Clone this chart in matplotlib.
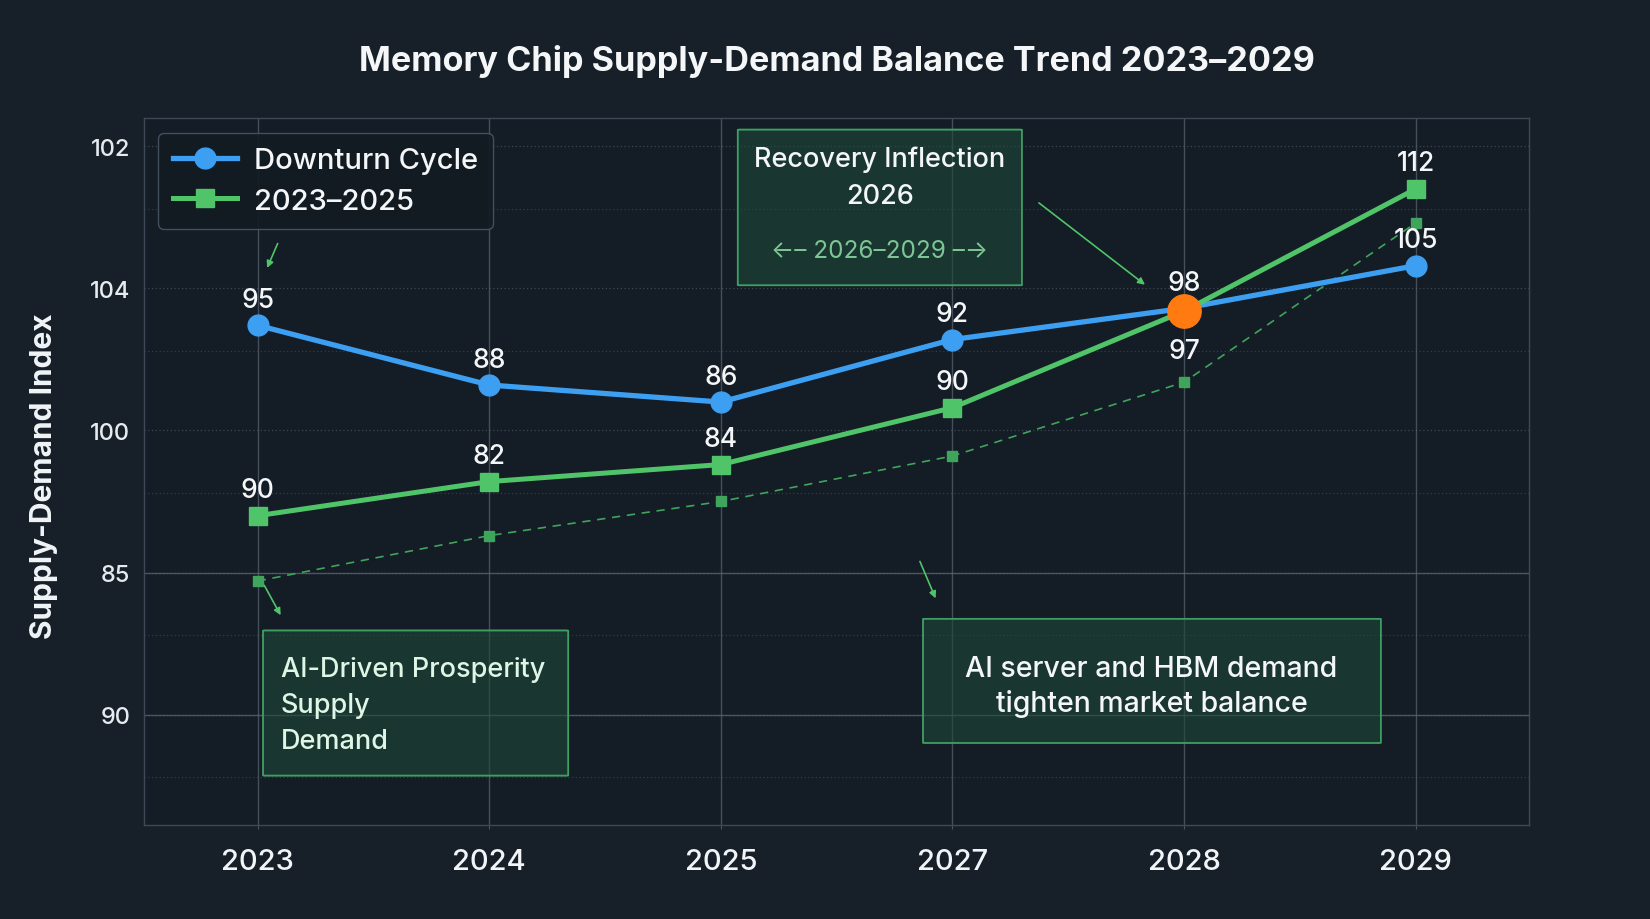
import matplotlib
matplotlib.use("Agg")
import matplotlib.pyplot as plt
from matplotlib.patches import FancyBboxPatch
from matplotlib.ticker import FixedLocator

plt.rcParams['font.family'] = ['Inter', 'DejaVu Sans']

# categories (x) and tick labels as printed on the chart
years = ['2023', '2024', '2025', '2027', '2028', '2029']
y_tick_pos = [110, 105, 100, 95, 90]
y_tick_labels = ['102', '104', '100', '85', '90']

downturn = [103.7, 101.6, 101.0, 103.2, 104.3, 105.8]
downturn_labels = ['95', '88', '86', '92', '98', '105']
ai_driven = [97.0, 98.2, 98.8, 100.8, 104.2, 108.5]
ai_labels = ['90', '82', '84', '90', '97', '112']
baseline = [94.7, 96.3, 97.5, 99.1, 101.7, 107.3]

inflection_idx = 4
inflection_val = 104.2

BG = '#172029'
AX_BG = '#141c25'
BLUE = '#3d9ff2'
GREEN = '#4fc468'
DGREEN = '#3fa45c'
ORANGE = '#ff7b12'
GRID = '#5a6672'
W = 500  # medium weight for most text

fig = plt.figure(figsize=(16.5, 9.2), dpi=100, facecolor=BG)
ax = fig.add_axes([0.0874, 0.1018, 0.8393, 0.7689])
ax.set_facecolor(AX_BG)

x = list(range(len(years)))

ax.set_xlim(-0.49, 5.49)
ax.set_ylim(86.1, 111.0)

# grid
ax.yaxis.set_major_locator(FixedLocator(y_tick_pos))
ax.yaxis.set_minor_locator(FixedLocator([107.8, 102.8, 97.8, 92.8, 87.8]))
ax.grid(which='major', axis='y', color=GRID, linestyle=(0, (1, 2)), linewidth=0.9, alpha=0.6)
ax.grid(which='minor', axis='y', color=GRID, linestyle=(0, (1, 2)), linewidth=0.9, alpha=0.45)
for v in (95, 90):
    ax.axhline(v, color=GRID, linewidth=1.0, alpha=0.75, zorder=0.5)
for xi in x:
    ax.axvline(xi, color=GRID, linewidth=1.0, alpha=0.7, zorder=0.5)

for s in ax.spines.values():
    s.set_color('#3d4957')
    s.set_linewidth(1.0)

ax.set_xticks(x)
ax.set_xticklabels(years, fontweight=W)
ax.set_yticklabels(y_tick_labels, fontweight=W)
ax.tick_params(axis='x', colors='#4a5664', labelcolor='#f2f5f8', labelsize=21, length=3, pad=13)
ax.tick_params(axis='y', which='major', colors='#4a5664', labelcolor='#e6ebf0', labelsize=17, length=0, pad=10)
ax.tick_params(axis='y', which='minor', length=0)

ax.set_ylabel('Supply-Demand Index', fontsize=21.5, fontweight='bold', color='#f2f5f8')
ax.yaxis.set_label_coords(-0.062, 0.4955)

ax.set_title('Memory Chip Supply-Demand Balance Trend 2023\u20132029', fontsize=24.6,
             fontweight='bold', color='#f4f6f8', pad=0, y=1.0 + 46 / 672)

# lines
ax.plot(x, baseline, color=DGREEN, linestyle=(0, (5, 4)), linewidth=1.2,
        marker='s', markersize=7, markerfacecolor=DGREEN, markeredgecolor=DGREEN, zorder=3)
l1, = ax.plot(x, downturn, color=BLUE, linewidth=3.8, marker='o', markersize=15,
              markerfacecolor=BLUE, markeredgecolor=BLUE, zorder=4, label='Downturn Cycle')
l2, = ax.plot(x, ai_driven, color=GREEN, linewidth=3.6, marker='s', markersize=13,
              markerfacecolor=GREEN, markeredgecolor=GREEN, zorder=5, label='2023\u20132025')
ax.plot([x[inflection_idx]], [inflection_val], marker='o', markersize=24, color=ORANGE, zorder=6)

# value labels
for xi, yv, t in zip(x, downturn, downturn_labels):
    ax.annotate(t, (xi, yv), textcoords='offset points', xytext=(0, 9), ha='center', va='bottom',
                fontsize=19, fontweight=W, color='#f4f6f8', zorder=7)
ai_dy = [9, 9, 9, 9, -19, 9]
for xi, yv, t, dy in zip(x, ai_driven, ai_labels, ai_dy):
    ax.annotate(t, (xi, yv), textcoords='offset points', xytext=(0, dy), ha='center',
                va='bottom' if dy > 0 else 'top', fontsize=19, fontweight=W, color='#f4f6f8', zorder=7)

leg = ax.legend(handles=[l1, l2], loc='upper left', bbox_to_anchor=(0.0099, 0.979), borderaxespad=0,
                frameon=True, facecolor='#121a22', edgecolor='#4a5664', labelcolor='#f4f6f8',
                handlelength=2.2, borderpad=0.5, labelspacing=0.45, handletextpad=0.6,
                prop={'size': 21, 'weight': W})
leg.get_frame().set_alpha(0.9)
leg.get_frame().set_linewidth(1.0)

# annotation boxes
def box(x0, y0, x1, y1):
    p = FancyBboxPatch((x0, y0), x1 - x0, y1 - y0, boxstyle='round,pad=0,rounding_size=0.01',
                       facecolor='#1d4a38', edgecolor='#3f9e62', linewidth=1.2, alpha=0.6, zorder=2)
    ax.add_patch(p)
    e = FancyBboxPatch((x0, y0), x1 - x0, y1 - y0, boxstyle='round,pad=0,rounding_size=0.01',
                       facecolor='none', edgecolor='#3f9e62', linewidth=1.2, zorder=2.1)
    ax.add_patch(e)

box(2.073, 105.11, 3.30, 110.59)
ax.text(2.686, 108.9, 'Recovery Inflection\n2026', ha='center', va='center', fontsize=19.5,
        fontweight=W, color='#f4f6f8', linespacing=1.55, zorder=8)
ax.text(2.686, 106.35, '\u2190\u2013 2026\u20132029 \u2013\u2192', ha='center', va='center', fontsize=17.5,
        color='#8ad6a2', alpha=0.9, zorder=8, family=['Inter', 'DejaVu Sans'])

box(0.023, 87.85, 1.341, 92.96)
ax.text(0.10, 90.35, 'AI-Driven Prosperity\nSupply\nDemand', ha='left', va='center', fontsize=19.5,
        fontweight=W, color='#dff5e6', linespacing=1.5, zorder=8)

box(2.873, 89.0, 4.85, 93.37)
ax.text(3.86, 91.0, 'AI server and HBM demand\ntighten market balance', ha='center', va='center',
        fontsize=20.5, fontweight=W, color='#f4f6f8', linespacing=1.35, zorder=8)

# pointer arrows
arrow = dict(arrowstyle='-|>', color='#4fc468', linewidth=1.2, mutation_scale=10)
ax.annotate('', xy=(3.841, 105.07), xytext=(3.364, 108.07), arrowprops=arrow, zorder=8)
ax.annotate('', xy=(0.036, 105.63), xytext=(0.091, 106.67), arrowprops=arrow, zorder=8)
ax.annotate('', xy=(0.105, 93.41), xytext=(0.023, 94.63), arrowprops=arrow, zorder=8)
ax.annotate('', xy=(2.932, 94.0), xytext=(2.855, 95.48), arrowprops=arrow, zorder=8)

fig.savefig('out.png', dpi=100, facecolor=BG)
